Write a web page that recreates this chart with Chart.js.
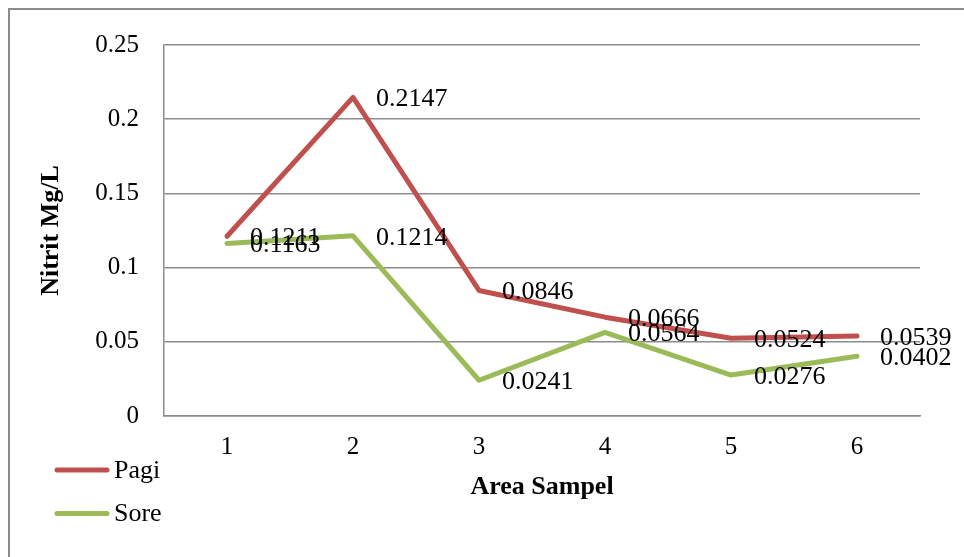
<!DOCTYPE html>
<html>
<head>
<meta charset="utf-8">
<script src="https://cdn.jsdelivr.net/npm/chart.js@4/dist/chart.umd.min.js"></script>
<style>
  html, body { margin: 0; padding: 0; background: #ffffff; }
  #wrap { width: 964px; height: 557px; position: relative; }
</style>
</head>
<body>
<div id="wrap"><canvas id="c" width="964" height="557"></canvas></div>
<script>
// Nitrite concentration per sampling area, morning vs afternoon
const areas = ['1', '2', '3', '4', '5', '6'];
const pagi = [0.1211, 0.2147, 0.0846, 0.0666, 0.0524, 0.0539];
const sore = [0.1163, 0.1214, 0.0241, 0.0564, 0.0276, 0.0402];
const yTicks = [0, 0.05, 0.1, 0.15, 0.2, 0.25];

const FONT = '"Liberation Serif", "Times New Roman", serif';
const RED = '#C0504D';
const GREEN = '#9BBB59';
const GRID = '#8c8c8c';

// Outer frame around the whole figure
const framePlugin = {
  id: 'frame',
  beforeDraw(chart) {
    const ctx = chart.ctx;
    ctx.save();
    ctx.fillStyle = '#ffffff';
    ctx.fillRect(0, 0, chart.width, chart.height);
    ctx.strokeStyle = '#8c8c8c';
    ctx.lineWidth = 2;
    ctx.strokeRect(9, 9, chart.width + 20, chart.height + 20);
    ctx.restore();
  }
};

// Value labels to the right of each point
const valueLabels = {
  id: 'valueLabels',
  afterDatasetsDraw(chart) {
    const ctx = chart.ctx;
    ctx.save();
    ctx.font = '26px ' + FONT;
    ctx.fillStyle = '#000000';
    ctx.textAlign = 'left';
    ctx.textBaseline = 'middle';
    chart.data.datasets.forEach((ds, i) => {
      const meta = chart.getDatasetMeta(i);
      meta.data.forEach((pt, j) => {
        ctx.fillText(String(ds.data[j]), pt.x + 23, pt.y + 2);
      });
    });
    ctx.restore();
  }
};

// Stacked legend in the lower-left corner
const sideLegend = {
  id: 'sideLegend',
  afterDraw(chart) {
    const ctx = chart.ctx;
    ctx.save();
    ctx.font = '26px ' + FONT;
    ctx.textAlign = 'left';
    ctx.textBaseline = 'middle';
    chart.data.datasets.forEach((ds, i) => {
      const y = 470 + i * 43.5;
      ctx.strokeStyle = ds.borderColor;
      ctx.lineWidth = 5;
      ctx.lineCap = 'round';
      ctx.beginPath();
      ctx.moveTo(57, y);
      ctx.lineTo(107, y);
      ctx.stroke();
      ctx.fillStyle = '#000000';
      ctx.fillText(ds.label, 114, y + 1);
    });
    ctx.restore();
  }
};

new Chart(document.getElementById('c'), {
  type: 'line',
  data: {
    labels: areas,
    datasets: [
      { label: 'Pagi', data: pagi, borderColor: RED, backgroundColor: RED },
      { label: 'Sore', data: sore, borderColor: GREEN, backgroundColor: GREEN }
    ]
  },
  options: {
    responsive: false,
    animation: false,
    events: [],
    layout: { padding: { left: 10, top: 45, right: 44, bottom: 0 } },
    elements: {
      line: { borderWidth: 5, tension: 0, borderCapStyle: 'round', borderJoinStyle: 'round' },
      point: { radius: 0, hoverRadius: 0 }
    },
    plugins: {
      legend: { display: false },
      tooltip: { enabled: false }
    },
    scales: {
      x: {
        offset: true,
        grid: { display: false, drawTicks: false },
        border: { display: true, color: GRID, width: 1.5 },
        ticks: { color: '#000000', font: { family: FONT, size: 25 }, padding: 16 },
        title: {
          display: true, text: 'Area Sampel', color: '#000000',
          font: { family: FONT, size: 26, weight: 'bold' },
          padding: { top: 0, bottom: 54 }
        },
        afterFit(scale) { scale.height = 141; }
      },
      y: {
        min: 0, max: 0.25,
        afterBuildTicks(scale) { scale.ticks = yTicks.map(v => ({ value: v })); },
        grid: { color: GRID, lineWidth: 1.5, drawTicks: false },
        border: { display: true, color: GRID, width: 1.5 },
        ticks: {
          color: '#000000', font: { family: FONT, size: 25 }, padding: 25,
          callback: v => String(+v.toFixed(2))
        },
        title: {
          display: true, text: 'Nitrit Mg/L', color: '#000000',
          font: { family: FONT, size: 26, weight: 'bold' },
          padding: { top: 26, bottom: 0 }
        },
        afterFit(scale) { scale.width = 154; }
      }
    }
  },
  plugins: [framePlugin, valueLabels, sideLegend]
});
</script>
</body>
</html>
